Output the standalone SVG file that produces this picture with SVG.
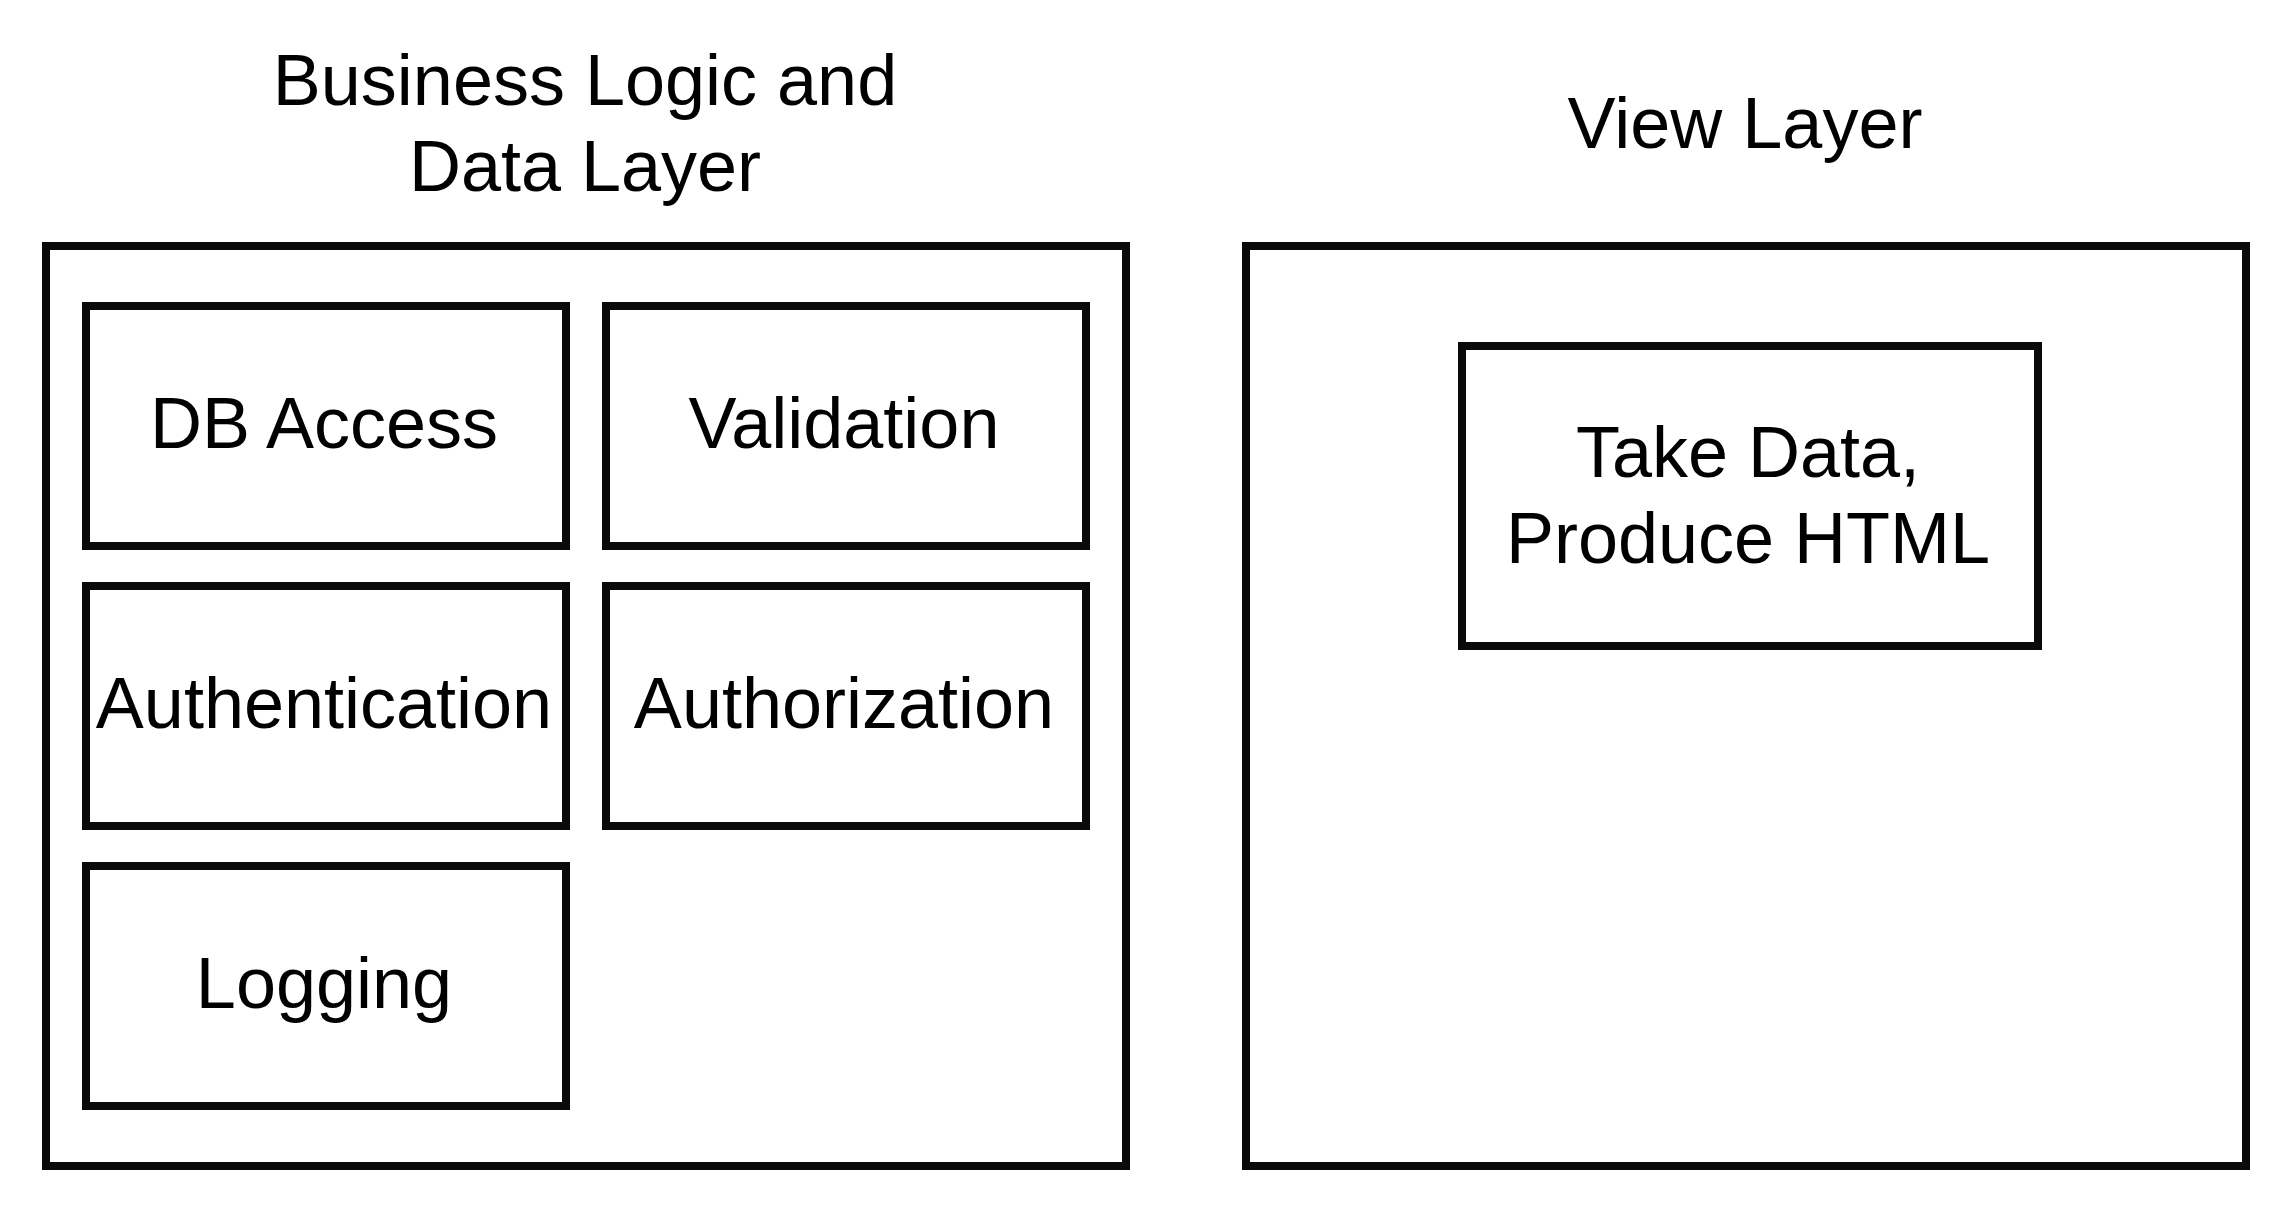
<svg xmlns="http://www.w3.org/2000/svg" width="2292" height="1212" viewBox="0 0 2292 1212">
<style>
.box{fill:#ffffff;stroke:#0a0a0a;stroke-width:8}
.t{font-family:"Liberation Sans",Arial,Helvetica,sans-serif;font-size:72px;fill:#000000;text-anchor:middle}
</style>
<rect width="2292" height="1212" fill="#ffffff"/>
<g id="business-layer">
<rect class="box" x="46" y="246" width="1080" height="920"/>
<text class="t" x="585" y="105">Business Logic and</text>
<text class="t" x="585" y="191">Data Layer</text>
</g>
<g id="view-layer">
<rect class="box" x="1246" y="246" width="1000" height="920"/>
<text class="t" x="1745" y="148">View Layer</text>
</g>
<g id="db-access">
<rect class="box" x="86" y="306" width="480" height="240"/>
<text class="t" x="324" y="448">DB Access</text>
</g>
<g id="validation">
<rect class="box" x="606" y="306" width="480" height="240"/>
<text class="t" x="844" y="448">Validation</text>
</g>
<g id="authentication">
<rect class="box" x="86" y="586" width="480" height="240"/>
<text class="t" x="324" y="728">Authentication</text>
</g>
<g id="authorization">
<rect class="box" x="606" y="586" width="480" height="240"/>
<text class="t" x="844" y="728">Authorization</text>
</g>
<g id="logging">
<rect class="box" x="86" y="866" width="480" height="240"/>
<text class="t" x="324" y="1008">Logging</text>
</g>
<g id="take-data">
<rect class="box" x="1462" y="346" width="576" height="300"/>
<text class="t" x="1748" y="477">Take Data,</text>
<text class="t" x="1748" y="563">Produce HTML</text>
</g>
<g id="connectors"></g>
</svg>
